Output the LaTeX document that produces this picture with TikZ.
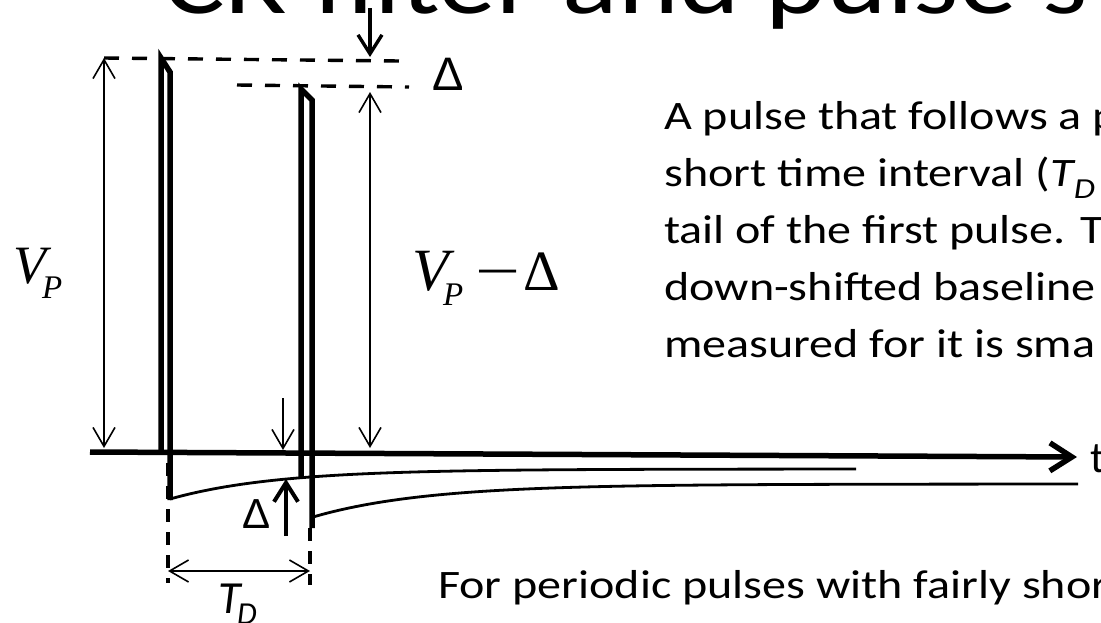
\documentclass[tikz,border=0pt]{standalone}
\usepackage{fontspec}
\usetikzlibrary{arrows.meta}
\newfontfamily\bodyf[FakeStretch=1.19]{Carlito}
\newfontfamily\titlef[FakeStretch=1.18]{Carlito}
\newfontfamily\plainf{Carlito}
\newfontfamily\arialf{Liberation Sans}
\newfontfamily\tnr{Liberation Serif}
\tikzset{
  pulse/.style={line width=5.5pt, line join=miter, line cap=butt},
  tailln/.style={line width=2.8pt},
  axisln/.style={line width=5.5pt, -{Straight Barb[length=22pt,width=28pt]}},
  dimtip/.tip={Straight Barb[length=19pt,width=22pt]},
  dim/.style={line width=1.6pt, dimtip-dimtip},
  single/.style={line width=1.6pt, -dimtip},
  thickarr/.style={line width=3.4pt, -{Straight Barb[length=19pt,width=24pt]}},
  hdash/.style={line width=3.4pt, dash pattern=on 15pt off 13pt},
  vdash/.style={line width=4pt, dash pattern=on 13pt off 10pt},
  txt/.style={anchor=base west, inner sep=0pt, font=\bodyf\fontsize{40.4}{57}\selectfont},
  lbl/.style={anchor=base west, inner sep=0pt}
}
\begin{document}
\begin{tikzpicture}[x=1pt,y=-1pt]
\clip (0,0) rectangle (1101,622);
\fill[white] (0,0) rectangle (1101,622);

% title (cut at top)
\node[lbl, font=\titlef\fontsize{98}{98}\selectfont] (title) at (163,13) {CR filter and pulse s};

% coordinates
\coordinate (axS) at (90,452);
\coordinate (axE) at (1077,457);
\coordinate (vpT) at (104,58);
\coordinate (vpB) at (104,448);
\coordinate (vdT) at (370,92);
\coordinate (vdB) at (370,448);
\coordinate (dTs) at (370,8);
\coordinate (dTe) at (370,57);
\coordinate (dBs) at (283,398);
\coordinate (dBe) at (283,450);
\coordinate (uBs) at (286,536);
\coordinate (uBe) at (286,479);
\coordinate (tdL) at (168,571);
\coordinate (tdR) at (310,571);

% dashed reference lines
\draw[hdash] (104,58) -- (400,61);
\draw[hdash] (237,85) -- (409,87);
\draw[vdash] (168,463) -- (168,583);
\draw[vdash] (310,528) -- (310,585);

% time axis
\draw[axisln] (axS) -- (axE);

% tails
\draw[tailln] plot[domain=170:856, samples=90, smooth] (\x,{469+30*exp(-(\x-170)/106)});
\draw[tailln] plot[domain=313:1078, samples=90, smooth] (\x,{484+33*exp(-(\x-313)/113)});

% pulses
\draw[pulse] (161,452) -- (161,58) -- (170,72) -- (170,500);
\draw[pulse] (301,478) -- (301,89) -- (312,100) -- (312,528);

% dimension arrows
\draw[dim] (vpT) -- (vpB);
\draw[dim] (vdT) -- (vdB);
\draw[thickarr] (dTs) -- (dTe);
\draw[single] (dBs) -- (dBe);
\draw[thickarr, line width=4pt] (uBs) -- (uBe);
\draw[dim] (tdL) -- (tdR);

% labels
\node[lbl, font=\arialf\fontsize{47}{47}\selectfont] (dtop) at (432,90) {Δ};
\node[lbl, font=\arialf\fontsize{42}{42}\selectfont] (dbot) at (242,528) {Δ};
\node[lbl, font=\plainf\itshape\fontsize{46}{46}\selectfont] (tT) at (218,613) {T};
\node[lbl, font=\plainf\itshape\fontsize{32}{32}\selectfont] (tD) at (237,624) {D};
\node[lbl, font=\plainf\fontsize{44}{44}\selectfont] (tlab) at (1090,472) {t};

\node[lbl, font=\tnr\itshape\fontsize{54}{54}\selectfont] (vpV) at (13,283) {V};
\node[lbl, font=\tnr\itshape\fontsize{33}{33}\selectfont] (vpP) at (42,298) {P};
\node[lbl, font=\tnr\itshape\fontsize{60}{60}\selectfont] (vdV) at (412,290) {V};
\node[lbl, font=\tnr\itshape\fontsize{33}{33}\selectfont] (vdP) at (443,305) {P};
\node[lbl, font=\tnr\fontsize{57}{57}\selectfont] (vdM) at (475,290) {\scalebox{1.4}[1]{−}};
\node[lbl, font=\tnr\fontsize{57}{57}\selectfont] (vdD) at (523,290) {Δ};

% text
\node[txt] (l1) at (664,129) {A pulse that follows a p};
\node[txt] (l2) at (664,186) {short time interval ({\itshape T}\raisebox{-12pt}{\fontsize{29}{29}\selectfont\itshape D}};
\node[txt] (l3) at (664,243) {tail of the first pulse. T};
\node[txt] (l4) at (664,300) {down-shifted baseline};
\node[txt] (l5) at (664,357) {measured for it is sma};
\node[txt] (l6) at (438,598) {For periodic pulses with fairly shor};
\end{tikzpicture}
\end{document}
